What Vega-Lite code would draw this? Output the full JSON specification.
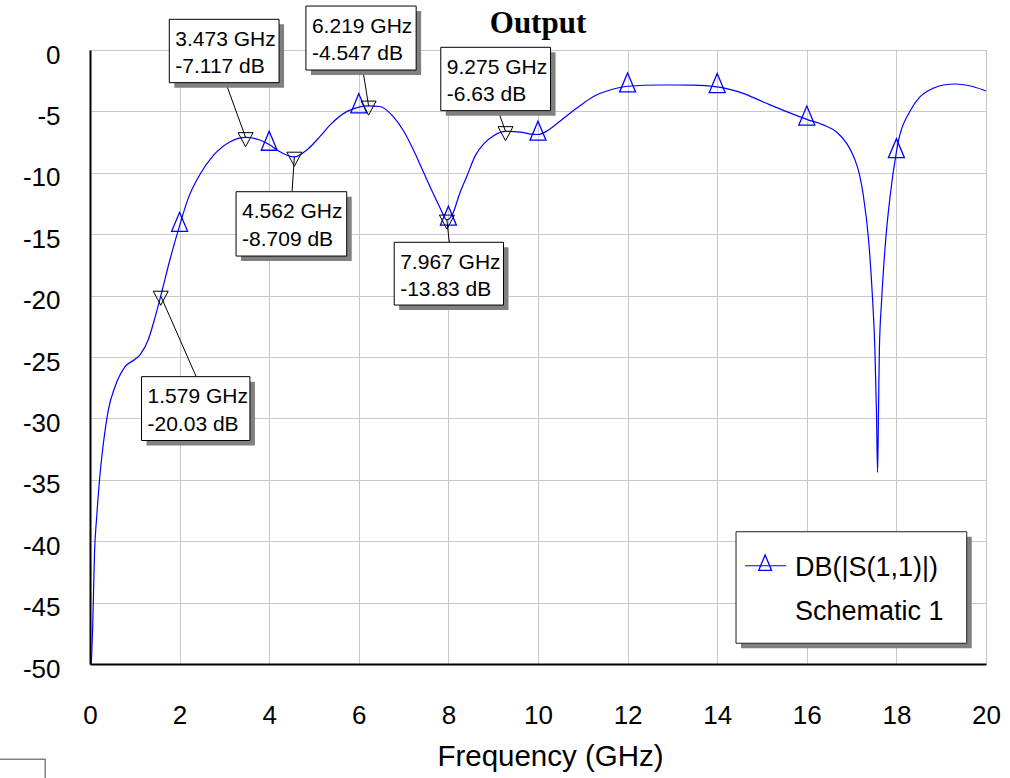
{
  "$schema": "https://vega.github.io/schema/vega-lite/v6.json",
  "autosize": {"type": "none"},
  "width": 896,
  "height": 614,
  "padding": {"left": 90, "top": 50, "right": 24, "bottom": 114},
  "background": "white",
  "title": {"text": "Output", "font": "Liberation Serif", "fontWeight": "bold", "fontSize": 31, "anchor": "middle", "baseline": "alphabetic", "offset": -58, "color": "black"},
  "config": {
    "view": {"stroke": "#404040", "strokeWidth": 1},
    "axis": {
      "labelFont": "Liberation Sans, Arial",
      "titleFont": "Liberation Sans, Arial",
      "labelFontSize": 26,
      "titleFontSize": 29.5,
      "titleFontWeight": "normal",
      "labelColor": "black",
      "titleColor": "black",
      "ticks": false,
      "gridColor": "#c8c8c8",
      "gridWidth": 1,
      "gridOpacity": 1,
      "domainColor": "black",
      "domainWidth": 2
    }
  },
  "datasets": {
    "trace": [
      {"f": 0.03, "db": -50}, {"f": 0.06, "db": -47}, {"f": 0.1, "db": -41}, {"f": 0.15, "db": -38},
      {"f": 0.22, "db": -34.7}, {"f": 0.3, "db": -32}, {"f": 0.41, "db": -29.3}, {"f": 0.56, "db": -27.4},
      {"f": 0.78, "db": -25.8}, {"f": 1.0, "db": -25.2}, {"f": 1.12, "db": -24.8}, {"f": 1.3, "db": -23.6},
      {"f": 1.45, "db": -21.8}, {"f": 1.579, "db": -20.03}, {"f": 1.79, "db": -17.0}, {"f": 2, "db": -14.3},
      {"f": 2.19, "db": -12.1}, {"f": 2.46, "db": -10.1}, {"f": 2.75, "db": -8.6}, {"f": 3.13, "db": -7.47},
      {"f": 3.473, "db": -7.117}, {"f": 3.79, "db": -7.33}, {"f": 4, "db": -7.7}, {"f": 4.2, "db": -8.2},
      {"f": 4.562, "db": -8.709}, {"f": 4.84, "db": -8.14}, {"f": 5.13, "db": -7.06}, {"f": 5.36, "db": -6.1},
      {"f": 5.73, "db": -5.02}, {"f": 6, "db": -4.65}, {"f": 6.219, "db": -4.547}, {"f": 6.47, "db": -4.6},
      {"f": 6.77, "db": -5.43}, {"f": 7.0, "db": -6.6}, {"f": 7.22, "db": -8.14}, {"f": 7.45, "db": -10.0},
      {"f": 7.65, "db": -11.6}, {"f": 7.82, "db": -12.9}, {"f": 7.967, "db": -13.83}, {"f": 8, "db": -13.8},
      {"f": 8.1, "db": -13.3}, {"f": 8.25, "db": -11.7}, {"f": 8.41, "db": -10.3}, {"f": 8.6, "db": -8.6},
      {"f": 8.8, "db": -7.6}, {"f": 9.0, "db": -7.0}, {"f": 9.275, "db": -6.63}, {"f": 9.6, "db": -6.68},
      {"f": 9.85, "db": -6.85}, {"f": 10, "db": -6.88}, {"f": 10.2, "db": -6.6}, {"f": 10.49, "db": -5.8},
      {"f": 10.86, "db": -4.75}, {"f": 11.23, "db": -3.8}, {"f": 11.61, "db": -3.26}, {"f": 12, "db": -2.95},
      {"f": 12.72, "db": -2.85}, {"f": 13.46, "db": -2.86}, {"f": 14, "db": -3.0}, {"f": 14.58, "db": -3.53},
      {"f": 15.1, "db": -4.34}, {"f": 15.55, "db": -5.02}, {"f": 16, "db": -5.65}, {"f": 16.37, "db": -6.1},
      {"f": 16.67, "db": -6.7}, {"f": 16.89, "db": -7.6}, {"f": 17.07, "db": -8.9}, {"f": 17.18, "db": -10.2},
      {"f": 17.26, "db": -11.8}, {"f": 17.38, "db": -15.5}, {"f": 17.47, "db": -20.4}, {"f": 17.52, "db": -24.4},
      {"f": 17.555, "db": -29.5}, {"f": 17.58, "db": -34.4}, {"f": 17.6, "db": -29.5}, {"f": 17.62, "db": -24.4},
      {"f": 17.67, "db": -20.4}, {"f": 17.76, "db": -15.5}, {"f": 17.86, "db": -11.9}, {"f": 18, "db": -8.3},
      {"f": 18.04, "db": -7.5}, {"f": 18.3, "db": -5.0}, {"f": 18.53, "db": -3.8}, {"f": 18.82, "db": -3.12},
      {"f": 19.05, "db": -2.85}, {"f": 19.31, "db": -2.77}, {"f": 19.72, "db": -2.99}, {"f": 20, "db": -3.34}
    ],
    "markers": [
      {"f": 3.473, "db": -7.117, "l1": "3.473 GHz", "l2": "-7.117 dB", "bx1": 1.77, "bx2": 4.22, "by1": 2.5, "by2": -2.66, "lx": 3.03, "ly": -2.66},
      {"f": 6.219, "db": -4.547, "l1": "6.219 GHz", "l2": "-4.547 dB", "bx1": 4.82, "bx2": 7.28, "by1": 3.58, "by2": -1.63, "lx": 6.09, "ly": -1.63},
      {"f": 9.275, "db": -6.63, "l1": "9.275 GHz", "l2": "-6.63 dB", "bx1": 7.83, "bx2": 10.28, "by1": 0.22, "by2": -4.94, "lx": 9.11, "ly": -4.94},
      {"f": 4.562, "db": -8.709, "l1": "4.562 GHz", "l2": "-8.709 dB", "bx1": 3.26, "bx2": 5.73, "by1": -11.54, "by2": -16.78, "lx": 4.51, "ly": -11.54},
      {"f": 7.967, "db": -13.83, "l1": "7.967 GHz", "l2": "-13.83 dB", "bx1": 6.79, "bx2": 9.23, "by1": -15.66, "by2": -20.77, "lx": 8.02, "ly": -15.66},
      {"f": 1.579, "db": -20.03, "l1": "1.579 GHz", "l2": "-20.03 dB", "bx1": 1.15, "bx2": 3.57, "by1": -26.6, "by2": -31.8, "lx": 2.37, "ly": -26.6}
    ],
    "legend": [
      {"name": "DB(|S(1,1)|)", "sub": "Schematic 1", "bx1": 14.42, "bx2": 19.57, "by1": -39.23, "by2": -48.31, "sx1": 14.62, "sx2": 15.54, "sy": -42.0, "px": 15.07}
    ],
    "frame": [
      {"x1": -2.2, "x2": -1.0, "y1": -57.76, "y2": -61}
    ]
  },
  "encoding": {
    "x": {"type": "quantitative"},
    "y": {"type": "quantitative"}
  },
  "layer": [
    {
      "data": {"name": "trace"},
      "mark": {"type": "line", "color": "#0000ff", "strokeWidth": 1.2, "interpolate": "monotone"},
      "encoding": {
        "x": {"field": "f", "type": "quantitative", "scale": {"domain": [0, 20], "nice": false, "zero": false},
          "axis": {"values": [0, 2, 4, 6, 8, 10, 12, 14, 16, 18, 20], "grid": true, "title": "Frequency (GHz)", "labelPadding": 38, "titleBaseline": "alphabetic", "titleX": 460, "titleY": 101, "labelFlush": false}},
        "y": {"field": "db", "type": "quantitative", "scale": {"domain": [-50, 0], "nice": false, "zero": false},
          "axis": {"values": [-50, -45, -40, -35, -30, -25, -20, -15, -10, -5, 0], "grid": true, "title": null, "labelPadding": 30, "labelOffset": 5, "labelFlush": false,
            "labelExpr": "datum.value < 0 ? '-' + abs(datum.value) : '' + datum.value"}}
      }
    },
    {
      "data": {"name": "trace"},
      "transform": [{"filter": "datum.f > 0.5 && datum.f < 19.5 && datum.f % 2 == 0"}],
      "mark": {"type": "point", "shape": "M0,-1.4L0.84,0.6L-0.84,0.6Z", "size": 361, "filled": false, "stroke": "#0000ff", "strokeWidth": 1.3, "opacity": 1},
      "encoding": {
        "x": {"field": "f", "type": "quantitative"},
        "y": {"field": "db", "type": "quantitative"}
      }
    },
    {
      "data": {"name": "frame"},
      "mark": {"type": "rect", "fill": null, "stroke": "#808080", "strokeWidth": 1.5},
      "encoding": {
        "x": {"field": "x1", "type": "quantitative"},
        "x2": {"field": "x2"},
        "y": {"field": "y1", "type": "quantitative"},
        "y2": {"field": "y2"}
      }
    },
    {
      "data": {"name": "markers"},
      "mark": {"type": "rule", "color": "black", "strokeWidth": 1},
      "encoding": {
        "x": {"field": "lx", "type": "quantitative"},
        "y": {"field": "ly", "type": "quantitative"},
        "x2": {"field": "f"},
        "y2": {"field": "db"}
      }
    },
    {
      "data": {"name": "markers"},
      "mark": {"type": "point", "shape": "M-0.79,-0.5L0.79,-0.5L0,0.98Z", "size": 361, "filled": false, "stroke": "black", "strokeWidth": 1, "opacity": 1},
      "encoding": {
        "x": {"field": "f", "type": "quantitative"},
        "y": {"field": "db", "type": "quantitative"}
      }
    },
    {
      "data": {"name": "markers"},
      "mark": {"type": "rect", "fill": "#808080", "xOffset": 5, "x2Offset": 5, "yOffset": 5, "y2Offset": 5},
      "encoding": {
        "x": {"field": "bx1", "type": "quantitative"},
        "x2": {"field": "bx2"},
        "y": {"field": "by1", "type": "quantitative"},
        "y2": {"field": "by2"}
      }
    },
    {
      "data": {"name": "markers"},
      "mark": {"type": "rect", "fill": "white", "stroke": "black", "strokeWidth": 1},
      "encoding": {
        "x": {"field": "bx1", "type": "quantitative"},
        "x2": {"field": "bx2"},
        "y": {"field": "by1", "type": "quantitative"},
        "y2": {"field": "by2"}
      }
    },
    {
      "data": {"name": "markers"},
      "mark": {"type": "text", "align": "left", "baseline": "alphabetic", "dx": 6, "dy": 26.5, "font": "Liberation Sans, Arial", "fontSize": 21, "color": "black"},
      "encoding": {
        "x": {"field": "bx1", "type": "quantitative"},
        "y": {"field": "by1", "type": "quantitative"},
        "text": {"field": "l1"}
      }
    },
    {
      "data": {"name": "markers"},
      "mark": {"type": "text", "align": "left", "baseline": "alphabetic", "dx": 6, "dy": 54, "font": "Liberation Sans, Arial", "fontSize": 21, "color": "black"},
      "encoding": {
        "x": {"field": "bx1", "type": "quantitative"},
        "y": {"field": "by1", "type": "quantitative"},
        "text": {"field": "l2"}
      }
    },
    {
      "data": {"name": "legend"},
      "mark": {"type": "rect", "fill": "#808080", "xOffset": 5, "x2Offset": 5, "yOffset": 5, "y2Offset": 5},
      "encoding": {
        "x": {"field": "bx1", "type": "quantitative"},
        "x2": {"field": "bx2"},
        "y": {"field": "by1", "type": "quantitative"},
        "y2": {"field": "by2"}
      }
    },
    {
      "data": {"name": "legend"},
      "mark": {"type": "rect", "fill": "white", "stroke": "#202020", "strokeWidth": 1},
      "encoding": {
        "x": {"field": "bx1", "type": "quantitative"},
        "x2": {"field": "bx2"},
        "y": {"field": "by1", "type": "quantitative"},
        "y2": {"field": "by2"}
      }
    },
    {
      "data": {"name": "legend"},
      "mark": {"type": "rule", "color": "#0000ff", "strokeWidth": 1.2},
      "encoding": {
        "x": {"field": "sx1", "type": "quantitative"},
        "x2": {"field": "sx2"},
        "y": {"field": "sy", "type": "quantitative"}
      }
    },
    {
      "data": {"name": "legend"},
      "mark": {"type": "point", "shape": "M0,-1.4L0.84,0.6L-0.84,0.6Z", "size": 238, "filled": false, "stroke": "#0000ff", "strokeWidth": 1.3, "opacity": 1},
      "encoding": {
        "x": {"field": "px", "type": "quantitative"},
        "y": {"field": "sy", "type": "quantitative"}
      }
    },
    {
      "data": {"name": "legend"},
      "mark": {"type": "text", "align": "left", "baseline": "alphabetic", "dx": 59, "dy": 44, "font": "Liberation Sans, Arial", "fontSize": 27, "color": "black"},
      "encoding": {
        "x": {"field": "bx1", "type": "quantitative"},
        "y": {"field": "by1", "type": "quantitative"},
        "text": {"field": "name"}
      }
    },
    {
      "data": {"name": "legend"},
      "mark": {"type": "text", "align": "left", "baseline": "alphabetic", "dx": 59, "dy": 88, "font": "Liberation Sans, Arial", "fontSize": 27, "color": "black"},
      "encoding": {
        "x": {"field": "bx1", "type": "quantitative"},
        "y": {"field": "by1", "type": "quantitative"},
        "text": {"field": "sub"}
      }
    }
  ]
}
